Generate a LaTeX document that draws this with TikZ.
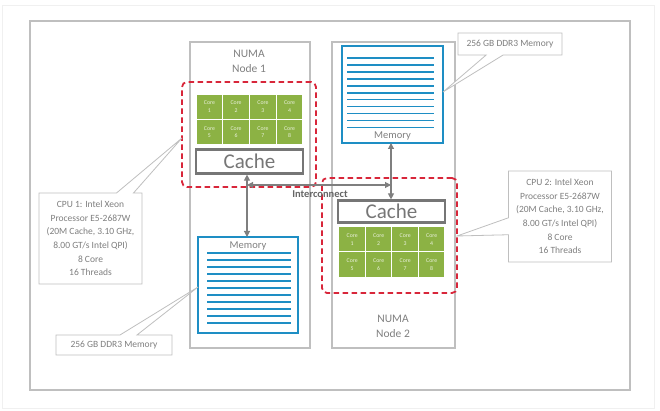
\documentclass[tikz,border=0pt]{standalone}
\usepackage{fontspec}
\setmainfont{Carlito}
\usetikzlibrary{arrows.meta,shapes.callouts}

\definecolor{framegray}{HTML}{BFBFBF}
\definecolor{notegray}{HTML}{7F7F7F}
\definecolor{cpured}{HTML}{D8263A}
\definecolor{coregreen}{HTML}{8CB244}
\definecolor{memblue}{HTML}{1E8EC4}
\definecolor{cachegray}{HTML}{767676}

\begin{document}
\begin{tikzpicture}[x=1pt,y=-1pt]

\def\corew{25.5pt}
\def\coreh{24pt}
\def\ptrw{17pt}

\tikzset{numabox/.style = {draw=framegray, line width=1.4pt, inner sep=0pt, outer sep=0pt},
  numalabel/.style = {text=notegray, align=center, font=\fontsize{11.5}{15}\selectfont},
  cpubox/.style = {draw=cpured, line width=1.8pt, dash pattern=on 5.5pt off 3.5pt, rounded corners=5pt, inner sep=0pt, outer sep=0pt},
  core/.style = {fill=coregreen, minimum width=\corew, minimum height=\coreh, inner sep=0pt, align=center, text=white!82!coregreen, font=\fontsize{5.8}{7.6}\selectfont},
  cachebox/.style = {draw=cachegray, line width=2.2pt, fill=white, minimum width=107pt, inner sep=0pt, text=cachegray, font=\fontsize{21}{21}\selectfont},
  membox/.style = {draw=memblue, line width=2.2pt, fill=white, inner sep=0pt, outer sep=0pt},
  memlabel/.style = {text=notegray, font=\fontsize{10.5}{12}\selectfont},
  memline/.style = {draw=memblue, line width=1.7pt},
  link/.style = {draw=notegray, line width=1.1pt, {Triangle[length=6pt,width=6pt]}-{Triangle[length=6pt,width=6pt]}},
  note/.style = {rectangle callout, draw=framegray, fill=white, line width=0.8pt, callout pointer width=\ptrw, inner sep=0pt, align=center, text=notegray, font=\fontsize{9.5}{13.6}\selectfont}}

\useasboundingbox (0,0) rectangle (660,411);
\draw[gray!12, line width=0.8pt] (2,5) rectangle (654,408);
\draw[framegray, line width=1.5pt] (30,21) rectangle (630,390);

\node[numabox, minimum width=120pt, minimum height=306pt] (N1) at (250,195) {};
\node[numabox, minimum width=123pt, minimum height=306pt] (N2) at (393.5,195) {};
\node[numalabel] (L1) at (249,61) {NUMA\\Node 1};
\node[numalabel] (L2) at (393,326) {NUMA\\Node 2};

\node[cpubox, minimum width=134pt, minimum height=105pt] (P1) at (249,134.5) {};
\node[cpubox, minimum width=135pt, minimum height=115pt] (P2) at (389.5,235.5) {};

\node[core] (C11) at (209.4,106.7) {Core\\1};
\node[core] (C12) at (236.1,106.7) {Core\\2};
\node[core] (C13) at (262.9,106.7) {Core\\3};
\node[core] (C14) at (289.6,106.7) {Core\\4};
\node[core] (C15) at (209.4,132.2) {Core\\5};
\node[core] (C16) at (236.1,132.2) {Core\\6};
\node[core] (C17) at (262.9,132.2) {Core\\7};
\node[core] (C18) at (289.6,132.2) {Core\\8};

\node[core] (C21) at (352.2,239.5) {Core\\1};
\node[core] (C22) at (378.7,239.5) {Core\\2};
\node[core] (C23) at (405.2,239.5) {Core\\3};
\node[core] (C24) at (431.7,239.5) {Core\\4};
\node[core] (C25) at (352.2,264.5) {Core\\5};
\node[core] (C26) at (378.7,264.5) {Core\\6};
\node[core] (C27) at (405.2,264.5) {Core\\7};
\node[core] (C28) at (431.7,264.5) {Core\\8};

\node[cachebox, minimum height=24pt] (K1) at (249.5,161.5) {Cache};
\node[cachebox, minimum height=22pt] (K2) at (391.5,211.5) {Cache};

\node[membox, minimum width=100pt, minimum height=96pt] (M1) at (248,285) {};
\node[memlabel] (ML1) at (248,245.5) {Memory};
\draw[memline] (207,253) -- (291,253);
\draw[memline] (207,260) -- (291,260);
\draw[memline] (207,267) -- (291,267);
\draw[memline] (207,274) -- (291,274);
\draw[memline] (207,281) -- (291,281);
\draw[memline] (207,288) -- (291,288);
\draw[memline] (207,295) -- (291,295);
\draw[memline] (207,302) -- (291,302);
\draw[memline] (207,309) -- (291,309);
\draw[memline] (207,316) -- (291,316);
\draw[memline] (207,323) -- (291,323);

\node[membox, minimum width=101pt, minimum height=97pt] (M2) at (392.5,94.5) {};
\node[memlabel] (ML2) at (392.5,136) {Memory};
\draw[memline] (347,58) -- (434,58);
\draw[memline] (347,65) -- (434,65);
\draw[memline] (347,72) -- (434,72);
\draw[memline] (347,79) -- (434,79);
\draw[memline] (347,86) -- (434,86);
\draw[memline] (347,93) -- (434,93);
\draw[memline] (347,99.5) -- (434,99.5);
\draw[memline] (347,106.5) -- (434,106.5);
\draw[memline] (347,113.5) -- (434,113.5);
\draw[memline] (347,120.5) -- (434,120.5);
\draw[memline] (347,127.5) -- (434,127.5);

\coordinate (IC) at (320,185);
\draw[link] (K1.south -| 247,0) -- (M1.north -| 247,0);
\draw[link] (M2.south -| 391,0) -- (K2.north -| 391,0);
\draw[link] (IC -| 247,0) -- (IC -| 391,0);
\node[text=notegray!80!black, font=\bfseries\fontsize{10.5}{12}\selectfont] (IL) at (320,194.5) {Interconnect};

\node[note, minimum width=103pt, minimum height=91pt, callout absolute pointer={(182,138)}] (T1) at (90.5,238.5) {CPU 1: Intel Xeon\\Processor E5-2687W\\(20M Cache, 3.10 GHz,\\8.00 GT/s Intel QPI)\\8 Core\\16 Threads};
\node[note, minimum width=103pt, minimum height=91pt, callout absolute pointer={(457,236)}] (T2) at (560,216.5) {CPU 2: Intel Xeon\\Processor E5-2687W\\(20M Cache, 3.10 GHz,\\8.00 GT/s Intel QPI)\\8 Core\\16 Threads};
\node[note, minimum width=116pt, minimum height=20pt, callout absolute pointer={(198,287)}] (T3) at (114,345) {256 GB DDR3 Memory};
\node[note, minimum width=104pt, minimum height=22pt, callout absolute pointer={(443,92)}] (T4) at (510,44) {256 GB DDR3 Memory};

\end{tikzpicture}
\end{document}
